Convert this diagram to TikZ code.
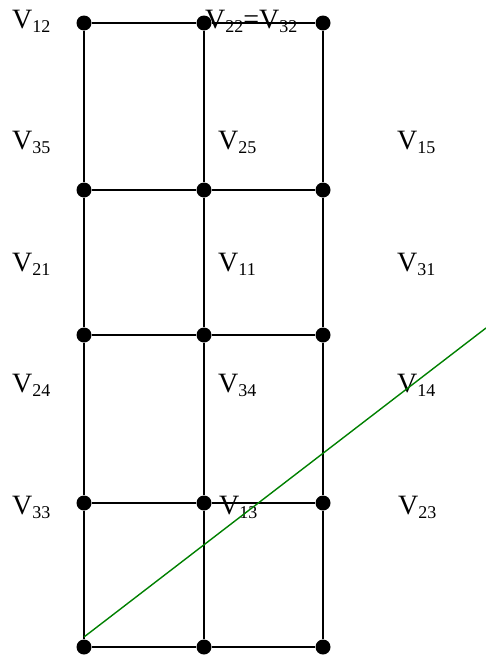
\documentclass[tikz,border=0pt]{standalone}
\usepackage{fontspec}
\setmainfont{Liberation Serif}
\newcommand{\vsub}[1]{\raisebox{-4pt}{\fontsize{18}{18}\selectfont #1}}

\begin{document}
\begin{tikzpicture}[x=1pt,y=-1pt,
    dot/.style={circle,fill=black,inner sep=0pt,minimum size=15pt},
    gridline/.style={line width=1.8pt,black},
    cut/.style={line width=1.4pt,green!50!black},
    vlabel/.style={anchor=base west,inner sep=0pt,font=\fontsize{28}{30}\selectfont}]
  \useasboundingbox (0,0) rectangle (486,656);
  % grid of points
  \foreach \x/\i in {84/1,204/2,323/3}
    \foreach \y/\j in {23/1,190/2,335/3,503/4,647/5}
      \node[dot] (d\i\j) at (\x,\y) {};
  % horizontal and vertical lines
  \foreach \j in {1,...,5}
    \draw[gridline] (d1\j) -- (d2\j) -- (d3\j);
  \foreach \i in {1,2,3}
    \draw[gridline] (d\i1) -- (d\i2) -- (d\i3) -- (d\i4) -- (d\i5);
  % labels, left column
  \node[vlabel] (v12) at (12,28) {V\vsub{12}};
  \node[vlabel] (v35) at (12,149) {V\vsub{35}};
  \node[vlabel] (v21) at (12,271) {V\vsub{21}};
  \node[vlabel] (v24) at (12,392) {V\vsub{24}};
  \node[vlabel] (v33) at (12,514) {V\vsub{33}};
  % labels, middle column
  \node[vlabel] (v22) at (205,28) {V\vsub{22}=V\vsub{32}};
  \node[vlabel] (v25) at (218,149) {V\vsub{25}};
  \node[vlabel] (v11) at (218,271) {V\vsub{11}};
  \node[vlabel] (v34) at (218,392) {V\vsub{34}};
  \node[vlabel] (v13) at (219,514) {V\vsub{13}};
  % labels, right column
  \node[vlabel] (v15) at (397,149) {V\vsub{15}};
  \node[vlabel] (v31) at (397,271) {V\vsub{31}};
  \node[vlabel] (v14) at (397,392) {V\vsub{14}};
  \node[vlabel] (v23) at (398,514) {V\vsub{23}};
  % green cutting line
  \coordinate (gs) at (84,637);
  \coordinate (ge) at (486,328);
  \draw[cut] (gs) -- (ge);
\end{tikzpicture}
\end{document}
